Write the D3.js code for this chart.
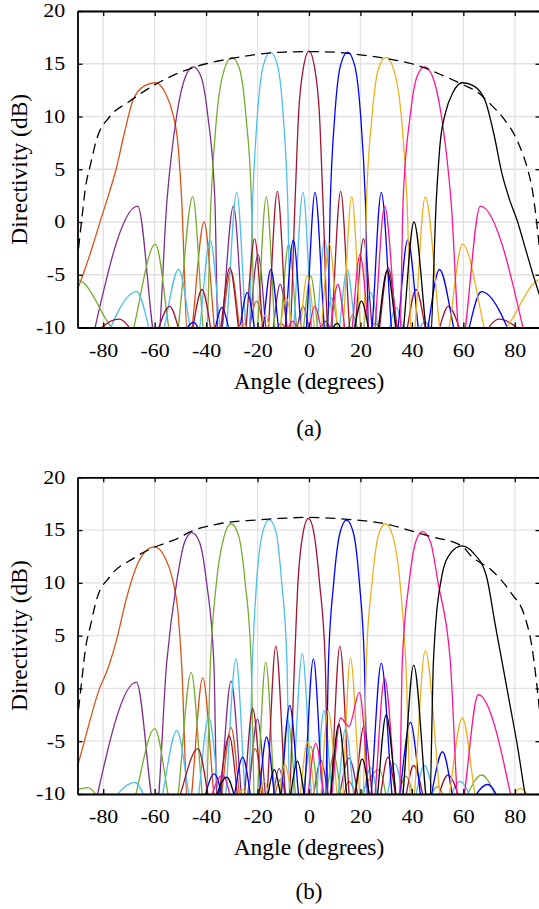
<!DOCTYPE html>
<html>
<head>
<meta charset="UTF-8">
<script src="https://cdn.jsdelivr.net/npm/d3@7/dist/d3.min.js"></script>
<style>
body{margin:0;background:#fff;}
svg text{font-family:"Liberation Serif","Times New Roman","DejaVu Serif",serif;fill:#000;}
</style>
</head>
<body>
<script>
// axis ticks
var xTicks = [-80, -60, -40, -20, 0, 20, 40, 60, 80];
var yTicks = [-10, -5, 0, 5, 10, 15, 20];

// beam colours: -60, -45, -30, -15, 0, 15, 30, 45, 60 deg
var beamColors = ["#D95319", "#7E2F8E", "#77AC30", "#4DBEEE", "#A2142F", "#0000FF", "#EDB120", "#FF1493", "#000000"];

// (a) — [angle, dB]; -12 marks a null below the axis
var envA = [[-89.6,-2.5],[-88,1.0],[-87,3.1],[-85,5.4],[-82.6,7.8],[-77.4,10.0],[-70,11.4],[-60,13.0],[-50,14.2],[-40,15.0],[-30,15.5],[-20,15.9],[-10,16.1],[0,16.15],[10,16.1],[20,15.85],[30,15.5],[40,15.0],[45,14.6],[50,14.1],[60,13.0],[65,12.4],[70,11.3],[76,9.7],[80,8.2],[83,6.5],[85,5.0],[87,2.8],[88,1.0],[89.6,-2.5]];
var orangeA = [[-90,-6.4],[-87,-4.4],[-84,-2.2],[-81,0.2],[-78,2.5],[-75,5.0],[-72,8.2],[-68.5,11.5],[-64,12.9],[-59.7,13.2],[-56,12.3],[-53,10.3],[-51,7.5],[-49.5,2.1],[-47,-12],[-40.8,0.0],[-35.4,-12],[-30.4,-4.6],[-25.3,-12],[-20.4,-7.5],[-15.6,-12],[-11,-9.6],[-6.5,-12]];
var purpleA = [[-85,-12],[-66.6,1.5],[-59,-12],[-55.2,2.1],[-51.5,10],[-48,13.8],[-45,14.7],[-42,13.8],[-39.3,10],[-36.6,2.1],[-35.2,-12],[-29.4,1.5],[-24.5,-12],[-19.8,-3.1],[-15.5,-12],[-11.2,-5.9],[-6.8,-12],[-2.3,-8.0],[2,-12],[6.2,-9.4],[10.5,-12]];
var greenA = [[-90,-5.4],[-87,-5.9],[-83,-7.4],[-79.5,-9.0],[-76,-10.3],[-71.5,-12],[-59.7,-2.1],[-52.5,-12],[-45.2,2.4],[-40,-12],[-38.1,2.1],[-35.9,10],[-33,14.4],[-30,15.6],[-27,14.5],[-24.5,10],[-22.4,2.1],[-21,-12],[-16.6,2.4],[-12.3,-12],[-7.9,-2.1],[-3.6,-12],[0.65,-5.1],[4.8,-12],[8.8,-7.2],[13,-12],[17,-8.8],[21.3,-12],[25.5,-9.6],[30,-12]];
var cyanA = [[-80.5,-12],[-67,-6.6],[-59,-12],[-50.7,-4.5],[-44,-12],[-38.4,-1.7],[-33.2,-12],[-28.1,2.8],[-23.5,-12],[-21.9,2.1],[-20.1,10],[-17.8,14.8],[-15,16.1],[-12.2,14.8],[-10,10],[-8.3,2.1],[-7,-12],[-2.35,2.8],[2,-12],[6.1,-1.7],[10.4,-12],[14.85,-4.5],[19.3,-12],[24,-6.7],[28.8,-12],[33.8,-8.1],[39,-12],[44.85,-9.5],[51,-12]];
var darkredA = [[-88,-12],[-73.9,-9.2],[-62.5,-12],[-54.2,-8.0],[-47.5,-12],[-41.6,-6.4],[-36,-12],[-30.75,-4.35],[-25.8,-12],[-21.15,-1.6],[-16.8,-12],[-12.3,2.9],[-7.8,-12],[-5.4,2.1],[-4.1,10],[-2.2,14.6],[0,16.2],[2.2,14.6],[4.1,10],[5.4,2.1],[7.8,-12],[12.3,2.9],[16.8,-12],[21.15,-1.6],[25.8,-12],[30.75,-4.35],[36,-12],[41.6,-6.4],[47.5,-12],[54.2,-8.0],[62.5,-12],[73.9,-9.2],[88,-12]];
var blueA = [[-51,-12],[-44.85,-9.5],[-39,-12],[-33.8,-8.1],[-28.8,-12],[-24,-6.7],[-19.3,-12],[-14.85,-4.5],[-10.4,-12],[-6.1,-1.7],[-2,-12],[2.35,2.8],[7,-12],[8.3,2.1],[10,10],[12.2,14.8],[15,16.1],[17.8,14.8],[20.1,10],[21.9,2.1],[23.5,-12],[28.1,2.8],[33.2,-12],[38.4,-1.7],[44,-12],[50.7,-4.5],[59,-12],[67,-6.6],[80.5,-12]];
var goldA = [[-30,-12],[-25.5,-9.6],[-21.3,-12],[-17,-8.8],[-13,-12],[-8.8,-7.2],[-4.8,-12],[-0.65,-5.1],[3.6,-12],[7.9,-2.1],[12.3,-12],[16.6,2.4],[21,-12],[22.4,2.1],[24.5,10],[27,14.5],[30,15.6],[33,14.4],[35.9,10],[38.1,2.1],[40,-12],[45.2,2.4],[52.5,-12],[59.7,-2.1],[71.5,-12],[76,-10.3],[79.5,-9.0],[83,-7.4],[87,-5.9],[90,-5.4]];
var pinkA = [[-10.5,-12],[-6.2,-9.4],[-2,-12],[2.3,-8.0],[6.8,-12],[11.2,-5.9],[15.5,-12],[19.8,-3.1],[24.5,-12],[29.4,1.5],[35.2,-12],[36.6,2.1],[39.3,10],[42,13.8],[45,14.7],[48,13.8],[51.5,10],[55.2,2.1],[59,-12],[66.6,1.5],[85,-12]];
var blackA = [[6.5,-12],[11,-9.6],[15.6,-12],[20.4,-7.5],[25.3,-12],[30.4,-4.6],[35.4,-12],[40.8,0.0],[47,-12],[49.5,2.1],[51,7.5],[53,10.3],[56,12.3],[59.7,13.2],[64,12.9],[68.5,11.5],[72,8.2],[75,4.6],[78,2.1],[81,0.1],[84,-2.4],[87,-4.9],[90,-7.2]];

// (b)
var envB = [[-89.6,-2.0],[-88,1.5],[-87,3.6],[-85,5.9],[-82.6,8.4],[-77.4,10.6],[-68.4,12.3],[-60,13.4],[-54.2,13.9],[-50.3,14.3],[-46.5,14.8],[-34.8,15.6],[-20.6,15.95],[-11.6,16.1],[0,16.2],[10.3,16.1],[20.7,15.9],[29.7,15.6],[38.7,15.0],[47.1,14.4],[59.4,13.5],[63.2,12.5],[71,11.2],[78.7,9.0],[83.9,6.8],[86.7,3.9],[88.5,0.5],[89.6,-2.0]];
var orangeB = [[-90,-7.4],[-86,-3.8],[-82,-0.4],[-78,2.0],[-74.8,4.6],[-71,8.5],[-67,11.6],[-63.5,13.0],[-60,13.4],[-56,12.4],[-53,10.3],[-51,7.4],[-49.5,2.2],[-47,-12],[-41.3,1.0],[-35.6,-12],[-30.3,-3.7],[-25.6,-12],[-20.9,-5.7],[-16,-12],[-11,-8.6],[-6.5,-12],[11,-12],[15.5,-8.8],[20,-12]];
var purpleB = [[-84,-12],[-67.1,0.6],[-59.5,-12],[-55.3,2.5],[-51.5,10],[-48.3,13.9],[-45.5,14.75],[-42.5,13.8],[-39.8,10],[-37,2.5],[-35.6,-12],[-30.3,0.7],[-25,-12],[-20,-2.9],[-15.7,-12],[-11.6,-7.6],[-7.5,-12],[0,-12],[4.5,-6.8],[9.5,-12],[15.5,-6.6],[20,-12]];
var greenB = [[-90,-9.6],[-86,-9.4],[-82,-10.4],[-79,-12],[-70.7,-12],[-60,-3.8],[-52.4,-12],[-45.8,1.5],[-40.2,-12],[-38.3,2.6],[-36,10],[-33,14.4],[-30.3,15.6],[-27.4,14.5],[-24.8,10],[-22.5,2.6],[-21,-12],[-16.8,2.5],[-12.5,-12],[-8.2,-3.0],[-4,-12],[0.65,-5.5],[5,-12],[9.7,-6.3],[14,-12],[27.4,-7.7],[32,-12],[37.7,-8.3],[43,-12],[50,-9.3],[56,-12],[67.1,-8.2],[75,-12]];
var cyanB = [[-80,-12],[-67.7,-8.9],[-59.5,-12],[-51.4,-4.0],[-44.5,-12],[-39.0,-2.75],[-33.5,-12],[-28.4,2.8],[-23.8,-12],[-22,2.7],[-20.4,10],[-18,14.8],[-15.5,16.0],[-12.8,14.8],[-10.6,10],[-8.6,2.7],[-7.3,-12],[-2.6,3.3],[1.9,-12],[5.8,-2.1],[10,-12],[14.2,-3.8],[18.8,-12],[24,-7.5],[28.5,-12],[33.3,-7.1],[39,-12],[44.9,-7.3],[51,-12],[58.7,-8.8],[65,-12]];
var darkredB = [[-64,-12],[-58.8,-9.95],[-54,-12],[-43.2,-5.7],[-37,-12],[-31,-4.5],[-26.3,-12],[-21.9,-1.9],[-17.2,-12],[-12.9,4.0],[-8.2,-12],[-5.6,2.6],[-4.3,10],[-2.4,14.6],[-0.2,16.1],[2,14.6],[4.1,10],[6.3,2.6],[7.6,-12],[12.0,4.0],[16.6,-12],[21.3,-3.6],[26,-12],[30.7,-6.5],[35.5,-12],[40.7,-7.3],[47,-12],[54.0,-8.2],[60,-12]];
var blueB = [[-42,-12],[-36.8,-8.1],[-31,-12],[-25.8,-6.5],[-20.8,-12],[-16.5,-4.6],[-12,-12],[-7.5,-1.6],[-2.8,-12],[1.7,2.8],[6.2,-12],[7.6,2.7],[9.6,10],[12,14.7],[14.6,15.95],[17.3,14.7],[19.6,10],[21.5,2.7],[23,-12],[28.1,2.4],[33.5,-12],[39.4,-3.2],[45,-12],[51.9,-6.0],[58,-12],[69.4,-9.1],[76,-12]];
var goldB = [[-30,-12],[-25.5,-9.6],[-21.3,-12],[-17.5,-8.8],[-13,-12],[-9.5,-7.2],[-4.8,-12],[-0.65,-5.1],[3.6,-12],[7.4,-2.1],[12.3,-12],[16.1,2.9],[20.8,-12],[22.3,2.7],[24.5,10],[27,14.5],[29.7,15.6],[32.6,14.4],[35.4,10],[37.6,2.7],[39.8,-12],[45.2,3.6],[52.5,-12],[59.6,-2.8],[66.5,-12],[75,-12],[82,-9.5],[89,-12]];
var pinkB = [[-40,-12],[-33.5,-8.2],[-28,-12],[-2,-12],[2.6,-5.2],[7.5,-12],[12.3,-2.8],[15.5,-3.6],[19.6,-0.4],[24.5,-12],[29.4,0.95],[35,-12],[36.3,2.7],[38.9,10],[41.5,13.9],[44.1,14.85],[47.2,13.9],[50.2,10],[54.9,2.7],[58.5,-12],[65.8,-0.6],[80,-12]];
var blackB = [[-38,-12],[-32,-8.4],[-26,-12],[-18,-12],[-13.5,-7.7],[-9,-12],[-4.5,-6.9],[0,-12],[7,-12],[11.6,-3.4],[16,-12],[20.7,-6.7],[25.3,-12],[30,-2.5],[35.3,-12],[40.7,2.2],[46.8,-12],[48.4,2.7],[51.6,10.6],[55,12.8],[59.4,13.5],[64,12.8],[69,10.6],[72.5,5.9],[75,2.6],[78,-1.4],[81,-5.4],[84,-10],[85.5,-12]];

var beamsA = [orangeA, purpleA, greenA, cyanA, darkredA, blueA, goldA, pinkA, blackA];
var beamsB = [orangeB, purpleB, greenB, cyanB, darkredB, blueB, goldB, pinkB, blackB];

var W = 539, H = 909;
var left = 77.5, right = 540.5;
var serif = "'Liberation Serif', 'Times New Roman', 'DejaVu Serif', serif";

var svg = d3.select("body").append("svg")
  .attr("width", W)
  .attr("height", H);

var x = d3.scaleLinear().domain([-90, 90]).range([left, right]);

function drawPanel(id, top, bottom, env, beams, tag, tagY) {
  var y = d3.scaleLinear().domain([-10, 20]).range([bottom, top]);
  var g = svg.append("g").attr("class", "panel-" + id);

  g.append("clipPath").attr("id", "clip-" + id)
    .append("rect")
    .attr("x", left).attr("y", top)
    .attr("width", right - left).attr("height", bottom - top);

  // grid
  g.append("g").selectAll("line").data(xTicks).enter()
    .append("line")
    .attr("x1", function(d){ return x(d); })
    .attr("x2", function(d){ return x(d); })
    .attr("y1", top).attr("y2", bottom)
    .attr("stroke", "#e2e2e2").attr("stroke-width", 1.3);
  g.append("g").selectAll("line").data(yTicks).enter()
    .append("line")
    .attr("x1", left).attr("x2", right)
    .attr("y1", function(d){ return y(d); })
    .attr("y2", function(d){ return y(d); })
    .attr("stroke", "#e2e2e2").attr("stroke-width", 1.3);

  var line = d3.line()
    .x(function(d){ return x(d[0]); })
    .y(function(d){ return y(d[1]); })
    .curve(d3.curveMonotoneX);

  var curves = g.append("g").attr("clip-path", "url(#clip-" + id + ")");
  curves.selectAll("path.beam").data(beams).enter()
    .append("path")
    .attr("class", "beam")
    .attr("d", line)
    .attr("fill", "none")
    .attr("stroke", function(d, i){ return beamColors[i]; })
    .attr("stroke-width", 1.3);

  curves.append("path")
    .datum(env)
    .attr("d", line)
    .attr("fill", "none")
    .attr("stroke", "#000")
    .attr("stroke-width", 1.3)
    .attr("stroke-dasharray", "10,6");

  // frame and axes, ticks pointing inward
  var xAxis = d3.axisBottom(x).tickValues(xTicks).tickSizeInner(-5).tickSizeOuter(0).tickPadding(16.4);
  var xTop = d3.axisTop(x).tickValues(xTicks).tickSizeInner(-5).tickSizeOuter(0).tickFormat("");
  var yAxis = d3.axisLeft(y).tickValues(yTicks).tickSizeInner(-5).tickSizeOuter(0).tickPadding(10.3);
  var yRight = d3.axisRight(y).tickValues(yTicks).tickSizeInner(-5).tickSizeOuter(0).tickFormat("");

  var ax = g.append("g").attr("transform", "translate(0," + bottom + ")").call(xAxis);
  var at = g.append("g").attr("transform", "translate(0," + top + ")").call(xTop);
  var ay = g.append("g").attr("transform", "translate(" + left + ",0)").call(yAxis);
  var ar = g.append("g").attr("transform", "translate(" + right + ",0)").call(yRight);
  [ax, at, ay, ar].forEach(function(a){
    a.attr("font-family", null);
    a.select(".domain").attr("stroke", "#000").attr("stroke-width", 1.8);
    a.selectAll(".tick line").attr("stroke", "#000").attr("stroke-width", 1.3);
  });
  at.selectAll(".tick text").remove();
  ar.selectAll(".tick text").remove();
  [ax, ay].forEach(function(a){
    a.selectAll(".tick text")
      .style("font-family", serif)
      .attr("font-size", 18.3)
      .attr("transform", "scale(1.2,1)")
      .text(function(d){ return d < 0 ? "-" + Math.abs(d) : d; });
  });

  g.append("text")
    .attr("transform", "translate(26.5," + ((top + bottom) / 2) + ") rotate(-90)")
    .attr("text-anchor", "middle")
    .style("font-family", serif)
    .attr("font-size", 23.5)
    .text("Directivity (dB)");

  g.append("text")
    .attr("x", x(0)).attr("y", bottom + 61)
    .attr("text-anchor", "middle")
    .style("font-family", serif)
    .attr("font-size", 23.5)
    .text("Angle (degrees)");

  g.append("text")
    .attr("x", x(0)).attr("y", tagY)
    .attr("text-anchor", "middle")
    .style("font-family", serif)
    .attr("font-size", 23)
    .text(tag);
}

drawPanel("a", 11, 327.5, envA, beamsA, "(a)", 435.5);
drawPanel("b", 477.3, 794, envB, beamsB, "(b)", 899);
</script>
</body>
</html>
